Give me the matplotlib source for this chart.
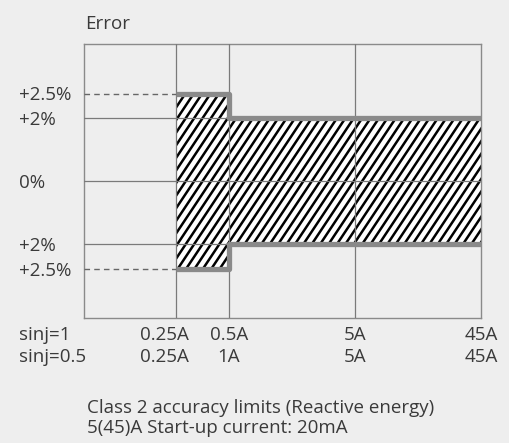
import matplotlib
matplotlib.use('Agg')
import matplotlib.pyplot as plt
from matplotlib.collections import LineCollection
import numpy as np

# data
currents = [0.25, 0.5, 5, 45]
labels_sin1 = ['0.25A', '0.5A', '5A', '45A']
labels_sin05 = ['0.25A', '1A', '5A', '45A']
limit_x = [0.25, 0.5, 45]
limit_err = [2.5, 2, 2]
err_ticks = [2.5, 2, 0, -2, -2.5]
err_labels = ['+2.5%', '+2%', '0%', '+2%', '+2.5%']

plt.rcParams['font.family'] = ['Open Sans', 'DejaVu Sans']
txt = '#3a3a3a'
bg = '#eeeeee'

fig = plt.figure(figsize=(5.09, 4.43), dpi=100, facecolor=bg)
ax = fig.add_axes([84 / 509, 125 / 443, 397 / 509, 274 / 443])
ax.set_facecolor(bg)

# schematic (non linear) axes, the picture isn't drawn to scale
xn = [0, 0.25, 0.5, 5, 45]
xp = [0, 92, 145, 271, 397]
yn = [-4, -2.5, -2, 0, 2, 2.5, 4]
yp = [-137, -87.5, -63, 0, 63, 87.5, 137]
ax.set_xscale('function', functions=(lambda v: np.interp(v, xn, xp),
                                      lambda v: np.interp(v, xp, xn)))
ax.set_yscale('function', functions=(lambda v: np.interp(v, yn, yp),
                                      lambda v: np.interp(v, yp, yn)))
ax.set_xlim(0, 45)
ax.set_ylim(-4, 4)

lim = np.array(limit_err)
poly = ax.fill_between(limit_x, -lim, lim, step='post', facecolor='white',
                       edgecolor='none', zorder=1)

# steep hatch lines clipped to the band
W, H = 397.0, 274.0
slope = 1.5
segs = []
for x0 in np.arange(-H / slope, W + 10, 8.4):
    segs.append([(x0 / W, 0), ((x0 + H / slope) / W, 1)])
hatch = LineCollection(segs, colors='black', linewidths=1.8,
                       transform=ax.transAxes, zorder=2)
hatch.set_clip_path(poly.get_paths()[0], poly.get_transform())
ax.add_collection(hatch)

# thin grid
for c in currents[:-1]:
    ax.axvline(c, color='#7a7a7a', lw=0.9, zorder=3)
for e in [2, 0, -2]:
    ax.axhline(e, color='#7a7a7a', lw=0.9, zorder=3)
for e in [2.5, -2.5]:
    ax.plot([0, currents[0]], [e, e], color='#666666', lw=1,
            dashes=(4, 3), zorder=3)

# limit outline
ax.step(limit_x, lim, where='post', color='#8a8a8a', lw=3.8,
        solid_capstyle='butt', zorder=4)
ax.step(limit_x, -lim, where='post', color='#8a8a8a', lw=3.8,
        solid_capstyle='butt', zorder=4)

for s in ax.spines.values():
    s.set_color('#8a8a8a')
    s.set_linewidth(1)
ax.set_xticks([])
ax.set_yticks([])

fs = 13.5
for e, l in zip(err_ticks, err_labels):
    ax.annotate(l, xy=(0, e), xycoords=('axes fraction', 'data'),
                xytext=(-65, -2), textcoords='offset pixels',
                ha='left', va='center', fontsize=fs, color=txt)

ax.annotate('Error', xy=(0, 1), xycoords='axes fraction', xytext=(1, 20),
            textcoords='offset pixels', ha='left', va='center',
            fontsize=fs, color=txt)

for i, (c, l1, l2) in enumerate(zip(currents, labels_sin1, labels_sin05)):
    dx = -12 if i == 0 else 0
    ax.annotate(l1, xy=(c, 0), xycoords=('data', 'axes fraction'),
                xytext=(dx, -17), textcoords='offset pixels',
                ha='center', va='center', fontsize=fs, color=txt)
    ax.annotate(l2, xy=(c, 0), xycoords=('data', 'axes fraction'),
                xytext=(dx, -39), textcoords='offset pixels',
                ha='center', va='center', fontsize=fs, color=txt)

fig.text(19 / 509, 1 - 335 / 443, 'sinj=1', ha='left', va='center',
         fontsize=fs, color=txt)
fig.text(19 / 509, 1 - 357 / 443, 'sinj=0.5', ha='left', va='center',
         fontsize=fs, color=txt)
fig.text(87 / 509, 1 - 408 / 443, 'Class 2 accuracy limits (Reactive energy)',
         ha='left', va='center', fontsize=fs, color=txt)
fig.text(87 / 509, 1 - 428 / 443, '5(45)A Start-up current: 20mA',
         ha='left', va='center', fontsize=fs, color=txt)

fig.savefig('out.png', dpi=100, facecolor=bg)
